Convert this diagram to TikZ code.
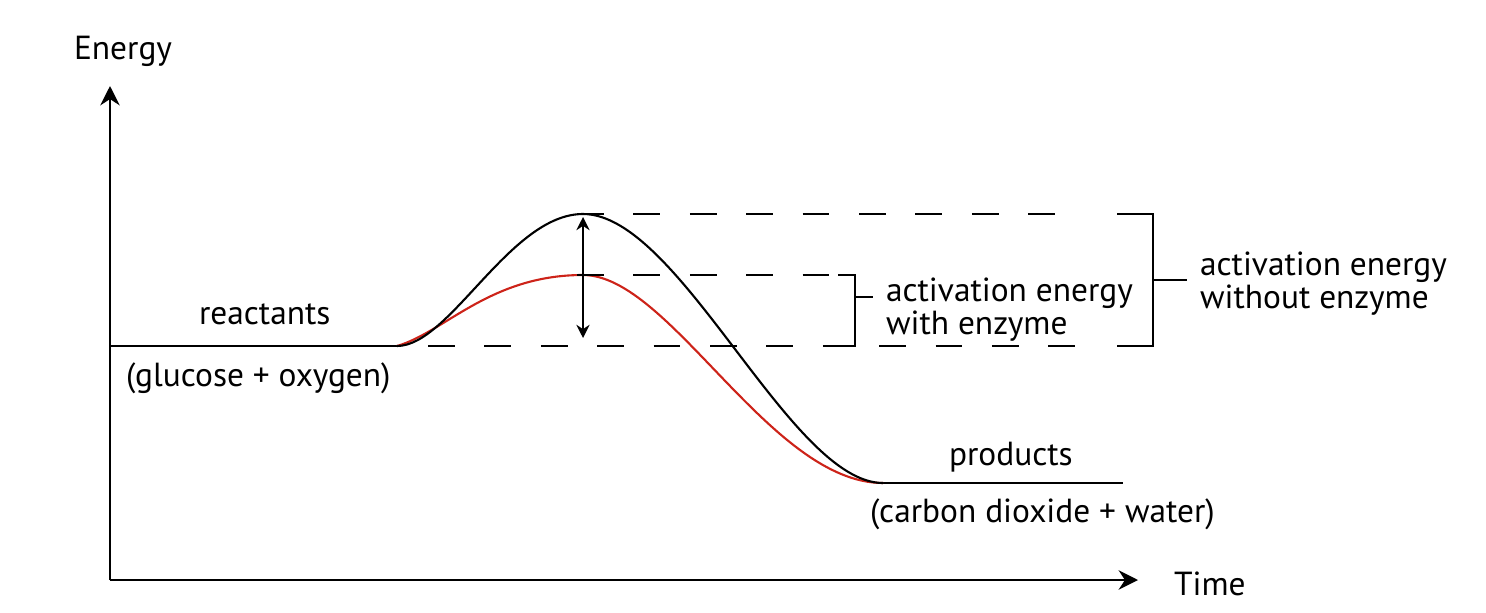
\documentclass[tikz,border=0pt]{standalone}
\usepackage{fontspec}
\setmainfont{PT Sans}
\usetikzlibrary{arrows.meta,positioning}
\definecolor{kurve}{RGB}{205,35,25}

\begin{document}
\begin{tikzpicture}[x=0.02cm, y=-0.02cm, line width=1.2pt,
  >={Stealth[length=11pt,width=11pt]},
  every node/.style={font=\fontsize{19}{18.7}\selectfont, inner sep=0pt},
  gestrichelt/.style={line width=1.4pt, dash pattern=on 15.3pt off 16.8pt},
  klammer/.style={line width=1.3pt}]
\useasboundingbox (0,0) rectangle (1486,612);

	% axes
	\coordinate (ursprung) at (110,580);
	\coordinate (yspitze) at (110,86);
	\coordinate (xspitze) at (1138,580);
	\draw[line width=1.5pt,->] (ursprung) -- (yspitze);
	\draw[line width=1.5pt,->] (ursprung) -- (xspitze);
	\node[anchor=base west] (energy) at (73,59) {Energy};
	\node[anchor=base west] (time) at (1173,595) {Time};

	% levels and curves
	\coordinate (start) at (397,346);
	\coordinate (gipfel) at (583,214);
	\coordinate (gipfelenz) at (583,275);
	\coordinate (ende) at (883,483);
	\draw (ursprung |- start) -- (start);
	\draw (ende) -- (1123,483);
	\draw[kurve] (start) .. controls (445,332) and (490,275) .. (gipfelenz)
		.. controls (670,275) and (770,483) .. (ende);
	\draw (start) .. controls (450,346) and (510,214) .. (gipfel)
		.. controls (680,214) and (790,483) .. (ende);

	% dashed levels
	\draw[gestrichelt] (577,214) -- (1060,214);
	\draw[gestrichelt] (577,275) -- (840,275);
	\draw[gestrichelt] (428,346) -- (1082,346);

	\draw[<->, >={Stealth[length=7.5pt,width=7.5pt]}] (583,217) -- (583,338);

	% brackets
	\draw[klammer] (838,275) -- (855,275) -- (855,346) -- (827,346);
	\draw[klammer] (855,297) -- (873,297);
	\draw[klammer] (1117,214) -- (1153,214) -- (1153,346) -- (1117,346);
	\draw[klammer] (1153,280) -- (1187,280);

	% labels
	\node[anchor=base west] (reactants) at (198,324) {reactants};
	\node[anchor=base west] (glucose) at (125,386) {(glucose + oxygen)};
	\node[anchor=base west] (products) at (948,465) {products};
	\node[anchor=base west] (carbon) at (869,522) {(carbon dioxide + water)};
	\node[align=left, anchor=base west] (mitenz) at (885,334) {activation energy\\with enzyme};
	\node[align=left, anchor=base west] (ohneenz) at (1199,308) {activation energy\\without enzyme};
\end{tikzpicture}
\end{document}
